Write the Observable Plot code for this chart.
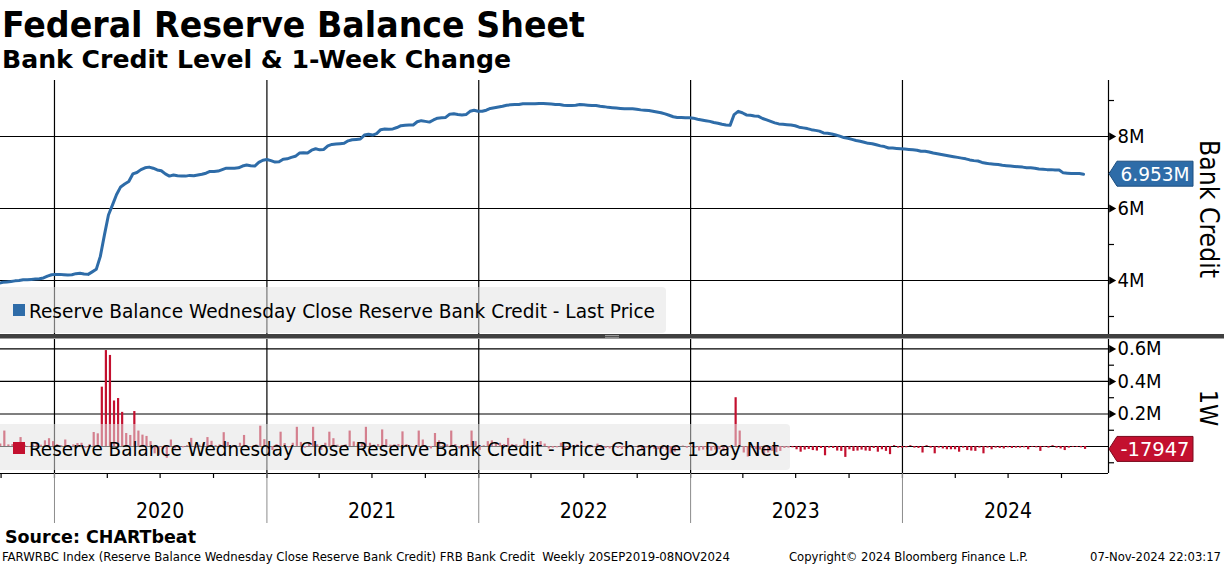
<!DOCTYPE html>
<html><head><meta charset="utf-8">
<script src="https://cdn.jsdelivr.net/npm/d3@7"></script>
<script src="https://cdn.jsdelivr.net/npm/@observablehq/plot@0.6"></script>
<style>
html,body{margin:0;padding:0;background:#fff;}
#root{position:relative;width:1224px;height:566px;overflow:hidden;background:#fff;}
#top,#bottom{position:absolute;left:0;}
#top{top:80px;} #bottom{top:339px;}
#overlay{position:absolute;left:0;top:0;}
</style></head>
<body><div id="root"><div id="top"></div><div id="bottom"></div><svg id="overlay" width="1224" height="566"></svg></div>
<script>
// ---------- DATA (weekly, billions of USD; first observation 2019-09-20) ----------
const startDate = "2019-09-20";
const levels2019 = [3880,3920,3950,3960,3970,3990,4000,4020,4020,4030,4040,4050,4070,4120,4160];
const levels2020 = [4170,4170,4160,4150,4160,4190,4200,4180,4170,4240,4310,4670,5260,5820,6100,6390,6600,6680,6750,6960,
  7000,7080,7130,7150,7120,7070,7050,6960,6900,6930,6910,6900,6900,6920,6910,6930,6950,6980,7030,7030,
  7040,7080,7120,7120,7120,7130,7180,7210,7190,7180,7280,7340];
const levels2021 = [7360,7330,7290,7300,7370,7380,7420,7450,7540,7550,7540,7620,7660,7630,7640,7740,7780,7790,7800,7810,
  7880,7910,7920,7930,8040,8060,8040,8080,8190,8210,8200,8210,8250,8300,8310,8320,8320,8410,8440,8420,
  8400,8460,8510,8520,8530,8620,8630,8610,8600,8610,8700,8730,8700];
const levels2022 = [8700,8730,8780,8800,8820,8840,8870,8880,8890,8890,8910,8910,8910,8910,8920,8920,8910,8900,8890,8890,
  8870,8860,8860,8870,8890,8880,8870,8860,8860,8840,8830,8810,8800,8790,8780,8770,8770,8770,8760,8740,
  8730,8720,8700,8680,8660,8630,8590,8550,8530,8530,8520,8520];
const levels2023 = [8510,8480,8460,8440,8420,8390,8370,8340,8320,8310,8610,8700,8660,8600,8590,8570,8560,8500,8460,8420,
  8380,8350,8340,8330,8320,8300,8260,8240,8220,8190,8170,8150,8100,8090,8070,8040,8010,7970,7950,7920,
  7890,7870,7840,7810,7800,7770,7740,7720,7680,7680,7670,7660];
const levels2024 = [7650,7640,7630,7620,7590,7590,7570,7540,7520,7500,7480,7460,7440,7420,7400,7380,7350,7330,7320,7280,
  7260,7240,7230,7220,7200,7190,7180,7170,7160,7150,7130,7130,7120,7100,7090,7080,7080,7070,7070,6990,
  6980,6970,6970,6970,6953];

const changes2019 = [20,15,95,10,12,18,55,8,-5,10,12,8,35,48,30];
const changes2020 = [12,5,40,-8,10,18,20,-10,12,86,78,365,590,560,280,295,210,80,68,215,
  95,70,62,30,-45,-55,-20,-72,40,-15,-10,-8,5,50,-12,8,15,55,32,6,
  10,85,25,-8,5,20,68,-12,-5,10,125,42];
const changes2021 = [-15,-25,12,88,18,-8,20,118,25,-10,15,118,10,-25,20,88,48,8,5,10,
  95,28,10,15,118,20,8,12,102,42,8,10,12,90,12,2,-5,95,40,-18,
  -15,80,35,5,10,95,12,-15,-8,12,95,30,-25];
const changes2022 = [5,30,35,18,20,12,50,12,10,5,45,-5,-8,5,30,15,-15,-10,-8,20,
  -15,-18,5,10,20,-5,-10,-8,15,-15,-12,-15,10,-12,-18,-10,5,-3,-10,-18,
  -10,-12,-18,-20,-18,-25,-45,-35,-15,3,-10,-5];
const changes2023 = [-10,-28,-22,-20,-28,-22,-20,-30,-22,-12,300,95,-40,-65,-12,-20,-22,-55,-40,-30,
  -38,-30,-12,-10,-8,-20,-35,-22,-18,-25,-28,-12,-57,-10,-12,-28,-30,-67,-20,-30,
  -28,-22,-28,-30,-12,-35,-20,-30,-50,5,-10,-10];
const changes2024 = [-8,5,-10,-12,-40,5,-10,-45,-10,-15,-20,-20,-20,-35,-10,-25,-28,-30,-10,-45,
  -10,-20,-10,-12,-15,-8,-12,-10,-10,-8,-20,-5,-8,-30,-5,-10,5,-10,-15,-25,
  -10,-5,-5,-8,-17.947];

const yearStarts = ["2020-01-01","2021-01-01","2022-01-01","2023-01-01","2024-01-01"];
const yearMids = ["2020-07-01","2021-07-01","2022-07-01","2023-07-01","2024-07-01"];
const yearLabels = ["2020","2021","2022","2023","2024"];
const topTicks = [4000,6000,8000];
const topTickLabels = ["4M","6M","8M"];
const topMinor = [3000,5000,7000,9000];
const botTicks = [200,400,600];
const botTickLabels = ["0.2M","0.4M","0.6M"];
const botGrid = [0,200,400,600];
const botMinor = [-100,100,300,500];
const lastLevelLabel = "6.953M";
const lastChangeLabel = "-17947";
const titleText = "Federal Reserve Balance Sheet";
const subtitleText = "Bank Credit Level & 1-Week Change";
const legendTop = "Reserve Balance Wednesday Close Reserve Bank Credit - Last Price";
const legendBottom = "Reserve Balance Wednesday Close Reserve Bank Credit - Price Change 1 Day Net";
const axisTitleTop = "Bank Credit";
const axisTitleBottom = "1W";
const sourceText = "Source: CHARTbeat";
const footLeft = "FARWRBC Index (Reserve Balance Wednesday Close Reserve Bank Credit) FRB Bank Credit\u00a0\u00a0Weekly 20SEP2019-08NOV2024";
const footMid = "Copyright\u00a9 2024 Bloomberg Finance L.P.";
const footRight = "07-Nov-2024 22:03:17";

// ---------- BUILD ----------
const BLUE = "#2e6ca8", RED = "#c3102f";
const FONT = '"DejaVu Sans Condensed","DejaVu Sans",sans-serif';
const t0 = new Date(startDate + "T00:00:00Z");
const levels = [].concat(levels2019, levels2020, levels2021, levels2022, levels2023, levels2024);
const changes = [].concat(changes2019, changes2020, changes2021, changes2022, changes2023, changes2024);
const levelData = levels.map((v, i) => ({date: d3.utcDay.offset(t0, 7 * i), value: v}));
const changeData = changes.map((v, i) => ({date: d3.utcDay.offset(t0, 7 * i), value: v}));
const xDomain = [new Date("2019-09-30T00:00:00Z"), new Date("2024-12-21T00:00:00Z")];
const years = yearStarts.map(d => new Date(d + "T00:00:00Z"));
const mids = yearMids.map(d => new Date(d + "T00:00:00Z"));
const quarters = d3.utcMonth.every(3).range(new Date("2019-10-01T00:00:00Z"), xDomain[1]);
const xEnd = xDomain[1];
const style = {fontFamily: FONT, fontSize: "20px", color: "#000", background: "transparent", overflow: "visible"};

const topChart = Plot.plot({
  width: 1224, height: 255, marginLeft: 0, marginRight: 116, marginTop: 0, marginBottom: 0,
  style,
  x: {type: "utc", domain: xDomain, axis: null},
  y: {domain: [2472, 9556], axis: null},
  marks: [
    Plot.ruleY(topTicks, {stroke: "#000", strokeWidth: 1.2}),
    Plot.ruleX(years, {stroke: "#000", strokeWidth: 1.2}),
    Plot.line(levelData, {x: "date", y: "value", stroke: BLUE, strokeWidth: 3, clip: true}),
    Plot.ruleX([xEnd], {stroke: "#000", strokeWidth: 1.2}),
    Plot.axisY(topMinor, {anchor: "right", tickSize: 5, tickFormat: () => "", strokeWidth: 1.2, label: null}),
    Plot.dot(topTicks, {x: () => xEnd, y: d => d, symbol: "triangle", r: 3, fill: "#000", stroke: null, rotate: 90, dx: 3}),
    Plot.axisY(topTicks, {anchor: "right", tickSize: 0, tickPadding: 9, fontSize: 20, label: null,
      tickFormat: d => topTickLabels[topTicks.indexOf(d)]})
  ]
});
document.getElementById("top").appendChild(topChart);

const botChart = Plot.plot({
  width: 1224, height: 190, marginLeft: 0, marginRight: 116, marginTop: 0, marginBottom: 56,
  style,
  x: {type: "utc", domain: xDomain, axis: null},
  y: {domain: [-166, 658], axis: null},
  marks: [
    Plot.ruleY(botGrid, {stroke: "#000", strokeWidth: 1.2}),
    Plot.ruleX(years, {stroke: "#000", strokeWidth: 1.2}),
    Plot.ruleX(changeData, {x: "date", y1: 0, y2: "value", stroke: RED, strokeWidth: 2.2, dx: 1.5, clip: true}),
    Plot.ruleX([xEnd], {stroke: "#000", strokeWidth: 1.2}),
    Plot.ruleY([-166], {stroke: "#000", strokeWidth: 1.2}),
    Plot.axisY(botMinor, {anchor: "right", tickSize: 5, tickFormat: () => "", strokeWidth: 1.2, label: null}),
    Plot.dot(botTicks, {x: () => xEnd, y: d => d, symbol: "triangle", r: 3, fill: "#000", stroke: null, rotate: 90, dx: 3}),
    Plot.axisY(botTicks, {anchor: "right", tickSize: 0, tickPadding: 9, fontSize: 20, label: null,
      tickFormat: d => botTickLabels[botTicks.indexOf(d)]}),
    Plot.axisX(quarters, {anchor: "bottom", tickSize: 5, tickFormat: () => "", strokeWidth: 1.2, label: null}),
    Plot.axisX(years, {anchor: "bottom", tickSize: 50, stroke: "#8c8c8c", tickFormat: () => "", label: null}),
    Plot.axisX(mids, {anchor: "bottom", tickSize: 0, tickPadding: 30, fontSize: 21, label: null,
      tickFormat: d => yearLabels[mids.findIndex(m => +m === +d)]})
  ]
});
document.getElementById("bottom").appendChild(botChart);

// ---------- OVERLAY ----------
const svg = d3.select("#overlay").style("font-family", FONT);
function text(x, y, s, o = {}) {
  const t = svg.append("text").attr("x", x).attr("y", y).text(s)
    .attr("font-size", o.size || 12).attr("fill", o.fill || "#000")
    .attr("font-weight", o.bold ? "bold" : "normal");
  if (o.len) t.attr("textLength", o.len).attr("lengthAdjust", "spacingAndGlyphs");
  if (o.anchor) t.attr("text-anchor", o.anchor);
  if (o.rotate) t.attr("transform", `rotate(${o.rotate},${x},${y})`);
  return t;
}
// titles
text(2, 37, titleText, {size: 36, bold: true, len: 583});
text(2, 68, subtitleText, {size: 25, bold: true, len: 509});

// legends (semi-transparent boxes)
svg.append("rect").attr("x", -4).attr("y", 287).attr("width", 670).attr("height", 46).attr("rx", 4)
  .attr("fill", "#e3e3e3").attr("fill-opacity", 0.53);
svg.append("rect").attr("x", 13).attr("y", 304).attr("width", 12).attr("height", 12).attr("fill", BLUE);
text(29, 318, legendTop, {size: 20, len: 626});

svg.append("rect").attr("x", -4).attr("y", 424).attr("width", 794).attr("height", 46).attr("rx", 4)
  .attr("fill", "#e3e3e3").attr("fill-opacity", 0.53);
svg.append("rect").attr("x", 13).attr("y", 442).attr("width", 12).attr("height", 12).attr("fill", RED);
text(29, 456, legendBottom, {size: 20, len: 750});

// separator between panels
svg.append("rect").attr("x", 0).attr("y", 334).attr("width", 1224).attr("height", 4.5).attr("fill", "#404040");
svg.append("line").attr("x1", 605).attr("x2", 619).attr("y1", 335.5).attr("y2", 335.5).attr("stroke", "#9a9a9a");
svg.append("line").attr("x1", 605).attr("x2", 619).attr("y1", 337.3).attr("y2", 337.3).attr("stroke", "#9a9a9a");

// rotated axis titles
text(1200, 209, axisTitleTop, {size: 26, anchor: "middle", rotate: 90, len: 138});
text(1200, 408, axisTitleBottom, {size: 25, anchor: "middle", rotate: 90});

// last value tags
function tag(y, label, fill, stroke) {
  const pts = [[1109, y], [1117, y - 12.5], [1193, y - 12.5], [1193, y + 12.5], [1117, y + 12.5]];
  svg.append("polygon").attr("points", pts.map(p => p.join(",")).join(" "))
    .attr("fill", fill).attr("stroke", stroke).attr("stroke-width", 1);
  text(1155, y + 7.5, label, {size: 20, fill: "#fff", anchor: "middle", len: 69});
}
const yLast = 80 + topChart.scale("y").apply(levels[levels.length - 1]);
const yLastChg = 339 + botChart.scale("y").apply(changes[changes.length - 1]);
tag(yLast, lastLevelLabel, BLUE, "#1d4f80");
tag(yLastChg, lastChangeLabel, RED, "#7a0a1e");

// footer
text(5, 543, sourceText, {size: 17, bold: true, len: 191});
text(2, 561, footLeft, {size: 12, len: 728});
text(789, 561, footMid, {size: 12, len: 239});
text(1221, 561, footRight, {size: 12, anchor: "end", len: 131});
</script>
</body></html>
